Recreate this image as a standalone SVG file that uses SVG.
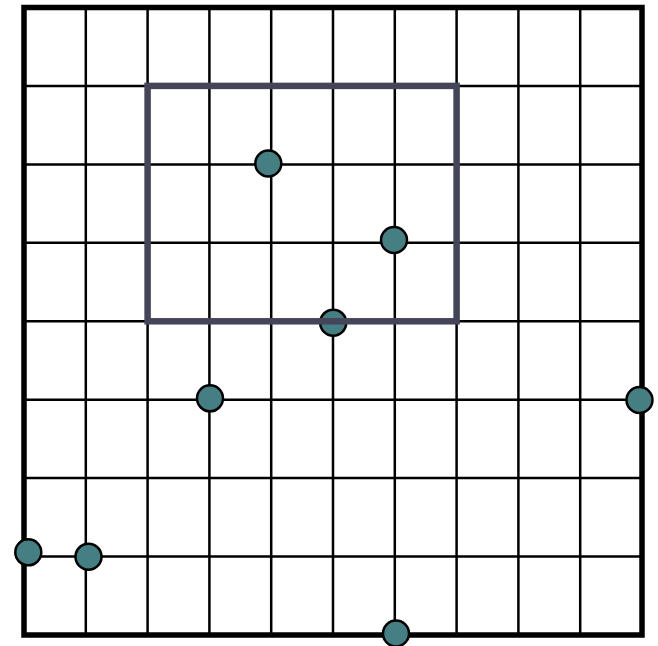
<svg xmlns="http://www.w3.org/2000/svg" width="658" height="646" viewBox="0 0 658 646">
<style>
.g{stroke:#000;stroke-width:2.5;fill:none}
.b{stroke:#000;stroke-width:5.5;fill:none}
.r{stroke:#454559;stroke-width:6.5;fill:none}
.n{fill:#457f84;stroke:#000;stroke-width:2.5}
</style>
<rect width="658" height="646" fill="#fff"/>
<g id="grid">
<path class="g" d="M85.8 7.5V635M147.6 7.5V635M209.4 7.5V635M271.2 7.5V635M333 7.5V635M394.8 7.5V635M456.6 7.5V635M518.4 7.5V635M580.2 7.5V635"/>
<path class="g" d="M24 85.9H642M24 164.4H642M24 242.8H642M24 321.3H642M24 399.7H642M24 478.1H642M24 556.6H642"/>
<rect class="b" x="24" y="7.5" width="618" height="627.5"/>
</g>
<g id="n1"><circle class="n" cx="268.3" cy="163.5" r="13"/></g>
<g id="n2"><circle class="n" cx="394" cy="240" r="13"/></g>
<g id="n3"><circle class="n" cx="333.2" cy="322.7" r="13"/></g>
<g id="n4"><circle class="n" cx="210" cy="398.3" r="13"/></g>
<g id="n5"><circle class="n" cx="639.5" cy="400" r="13"/></g>
<g id="n6"><circle class="n" cx="28.3" cy="552.3" r="13"/></g>
<g id="n7"><circle class="n" cx="88.5" cy="556.7" r="13"/></g>
<g id="n8"><circle class="n" cx="396" cy="633.5" r="13"/></g>
<g id="region">
<rect class="r" x="147.6" y="85.9" width="309" height="235.4"/>
</g>
</svg>
